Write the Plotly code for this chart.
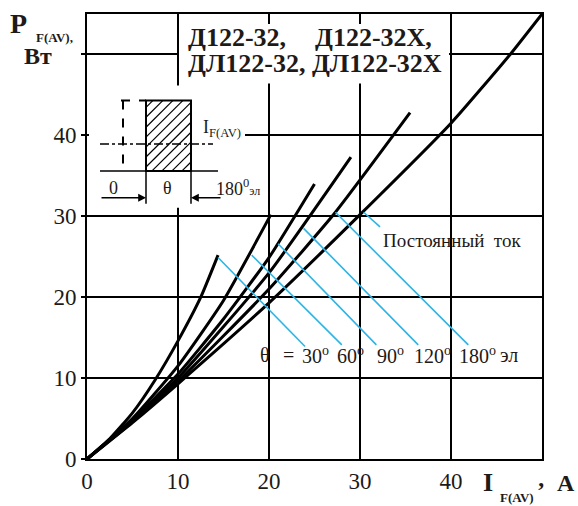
import plotly.graph_objects as go

# ---- data ----
I_30 = [0, 2.5, 5, 7.5, 10, 12.5, 14.4]
P_30 = [0, 2.5, 5.7, 9.8, 14.6, 20.0, 25.2]
I_60 = [0, 5, 10, 15, 20.2]
P_60 = [0, 5.0, 11.5, 19.6, 30.2]
I_90 = [0, 5, 10, 15, 20, 25]
P_90 = [0, 4.8, 10.5, 17.3, 24.9, 34.0]
I_120 = [0, 5, 10, 20, 29]
P_120 = [0, 4.7, 10.0, 23.0, 37.3]
I_180 = [0, 5, 10, 20, 27.3, 35.5]
P_180 = [0, 4.6, 9.6, 21.0, 30.5, 42.8]
I_DC = [0, 5, 10, 20, 30, 40, 46.5, 50]
P_DC = [0, 4.5, 9.3, 19.3, 30.2, 41.5, 50.0, 55.0]

x_ticks = [0, 10, 20, 30, 40, 50]
x_ticktext = ["0", "10", "20", "30", "40", ""]
y_ticks = [0, 10, 20, 30, 40, 50]
y_ticktext = ["0", "10", "20", "30", "40", ""]

curves = [(I_30, P_30), (I_60, P_60), (I_90, P_90), (I_120, P_120), (I_180, P_180), (I_DC, P_DC)]

W, H = 578, 506
ML, MR, MT, MB = 87, 36, 12, 46
XMAX, YMAX = 50, 55
PW, PH = W - ML - MR, H - MT - MB


def dx(px):
    return (px - ML) / PW * XMAX


def dy(py):
    return (H - MB - py) / PH * YMAX


def pxp(px):
    return (px - ML) / PW


def pyp(py):
    return (H - MB - py) / PH


INK = "#1d1a18"
BLUE = "#2db4e6"
SERIF = "Liberation Serif"

fig = go.Figure()
for xs, ys in curves:
    fig.add_trace(go.Scatter(x=xs, y=ys, mode="lines", line=dict(color="black", width=3, shape="spline", smoothing=0.5),
                             showlegend=False, hoverinfo="skip"))

shapes = []
# white covers to interrupt the grid (title block & inset)
shapes.append(dict(type="rect", xref="x", yref="y", x0=dx(179), x1=dx(449), y0=dy(22), y1=dy(82),
                   fillcolor="white", line=dict(width=0), layer="between"))
shapes.append(dict(type="rect", xref="x", yref="y", x0=dx(89), x1=dx(245), y0=dy(84), y1=dy(207),
                   fillcolor="white", line=dict(width=0), layer="between"))


def seg(p0, p1, width=1.5, color="black", dash="solid"):
    shapes.append(dict(type="line", xref="x", yref="y", x0=dx(p0[0]), y0=dy(p0[1]), x1=dx(p1[0]), y1=dy(p1[1]),
                       line=dict(color=color, width=width, dash=dash)))


# inset: current pulse sketch
rx0, rx1, ry0, ry1 = 146, 191, 99, 170
shapes.append(dict(type="rect", xref="x", yref="y", x0=dx(rx0), x1=dx(rx1), y0=dy(ry0), y1=dy(ry1),
                   line=dict(color="black", width=2)))
for c in range(252, 361, 10):
    a = max(rx0, c - ry1)
    b = min(rx1, c - ry0)
    if b > a:
        seg((a, c - a), (b, c - b), width=1.2)
seg((123, 99), (123, 170), width=2, dash="dash")
seg((121, 99), (146, 99), width=2, dash="dash")
seg((100, 170), (218, 170), width=1.5)
seg((100, 143), (213, 143), width=1.5, dash="dashdot")
seg((146, 170), (146, 203), width=1.5)
seg((191, 170), (191, 203), width=1.5)

# leader lines
leaders = [((14.4, 24.9), (23.96, 13.9)), ((18.1, 25.2), (28.0, 14.1)), ((21.0, 26.6), (31.8, 14.1)),
           ((23.8, 28.5), (36.4, 14.1)), ((27.3, 30.5), (41.9, 14.1)), ((30.4, 30.5), (32.2, 28.7))]
for (a0, b0), (a1, b1) in leaders:
    shapes.append(dict(type="line", xref="x", yref="y", x0=a0, y0=b0, x1=a1, y1=b1,
                       line=dict(color=BLUE, width=1.6)))

ann = []


def txt(px, py, s, size, bold=False, xanchor="center"):
    ann.append(dict(x=pxp(px), y=pyp(py), xref="paper", yref="paper", text=("<b>%s</b>" % s) if bold else s,
                    showarrow=False, font=dict(family=SERIF, size=size, color=INK),
                    xanchor=xanchor, yanchor="middle"))


# title block
txt(237, 36, "Д122-32,", 26, bold=True)
txt(373, 36, "Д122-32Х,", 26, bold=True)
txt(315, 62, "ДЛ122-32, ДЛ122-32Х", 26, bold=True)

# inset labels
txt(113, 187, "0", 18)
txt(167, 187, "θ", 18)
txt(238, 187, "180<sup>0</sup><span style='font-size:12px'>эл</span>", 18)
txt(222, 127, "I<sub>F(AV)</sub>", 18)

# arrows in inset
for hx, off in [(146, -46), (191, 31)]:
    ann.append(dict(x=dx(hx), y=dy(197), xref="x", yref="y", ax=off, ay=0, text="", showarrow=True,
                    arrowhead=2, arrowsize=1.2, arrowwidth=1.3, arrowcolor="black"))

# curve labels
txt(452, 240, "Постоянный&nbsp;&nbsp;ток", 19)
for cx, s in [(265, "θ"), (288, "="), (315, "30<sup>о</sup>"), (350, "60<sup>о</sup>"), (390, "90<sup>о</sup>"),
              (432, "120<sup>о</sup>"), (477, "180<sup>о</sup>"), (509, "эл")]:
    txt(cx, 355, s, 20)

# axis titles
txt(18, 22, "P", 28, bold=True)
txt(54, 36, "F(AV),", 13, bold=True)
txt(38, 54, "Вт", 24, bold=True)
txt(488, 484, "I", 26, bold=True)
txt(517, 499, "F(AV)", 13, bold=True)
txt(541, 491, "’", 24, bold=True)
txt(566, 484, "A", 24, bold=True)

axis_common = dict(showgrid=True, gridcolor="black", gridwidth=2, showline=True, linecolor="black", linewidth=2,
                   mirror=True, zeroline=False, tickfont=dict(family=SERIF, size=23, color=INK))

fig.update_layout(
    width=W, height=H, margin=dict(l=ML, r=MR, t=MT, b=MB, pad=0),
    paper_bgcolor="white", plot_bgcolor="white",
    xaxis=dict(range=[0, XMAX], tickvals=x_ticks, ticktext=x_ticktext, ticks="", **axis_common),
    yaxis=dict(range=[0, YMAX], tickvals=y_ticks, ticktext=y_ticktext, ticks="outside", ticklen=4,
               tickwidth=1.5, tickcolor="black", **axis_common),
    shapes=shapes, annotations=ann, showlegend=False,
)

fig.write_html("out.html", config={"displayModeBar": False},
               post_script="document.body.style.margin='0';document.body.style.overflow='hidden';")
